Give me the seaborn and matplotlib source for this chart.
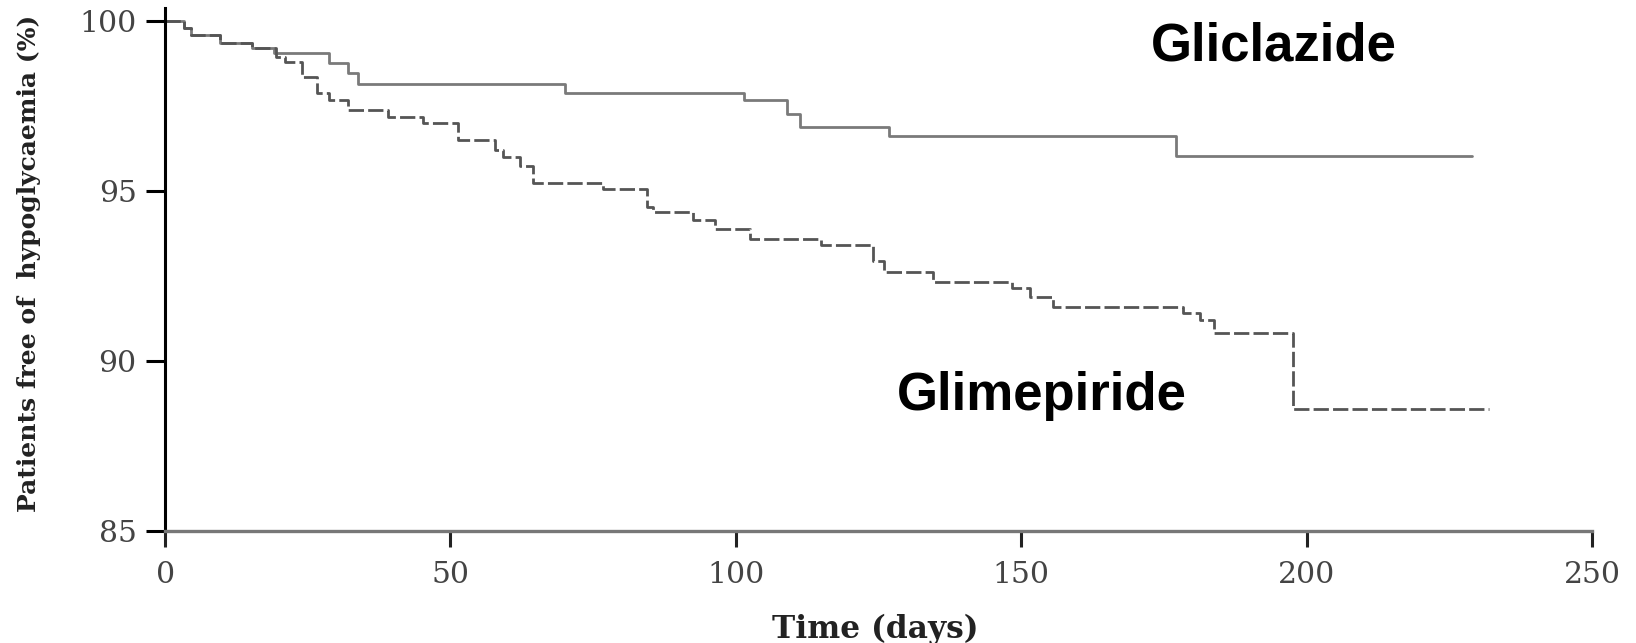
import matplotlib
matplotlib.use("Agg")
import matplotlib.pyplot as plt
import numpy as np
import pandas as pd
import seaborn as sns

# ---- data ----
days_gliclazide = [0, 3.3, 4.6, 9.6, 15.3, 19.0, 28.8, 32.1, 33.8, 70.1,
                   101.5, 109.0, 111.3, 126.8, 177.2, 229.0]
free_gliclazide = [100, 99.8, 99.58, 99.34, 99.21, 99.05, 98.75, 98.46, 98.16, 97.89,
                   97.67, 97.25, 96.89, 96.63, 96.04, 96.04]

days_glimepiride = [0, 3.3, 4.6, 9.6, 15.3, 19.5, 21.0, 24.0, 26.7, 28.7, 32.0,
                    39.1, 45.2, 51.3, 57.8, 59.2, 62.2, 64.5, 76.7, 84.4, 85.5,
                    92.5, 96.4, 102.5, 115.0, 124.0, 125.9, 134.6, 148.3, 151.6,
                    155.6, 178.3, 181.4, 183.7, 197.7, 232.0]
free_glimepiride = [100, 99.8, 99.58, 99.34, 99.21, 98.95, 98.8, 98.36, 97.87, 97.67, 97.38,
                    97.18, 96.99, 96.5, 96.2, 96.0, 95.73, 95.24, 95.05, 94.54, 94.39,
                    94.14, 93.88, 93.6, 93.41, 92.95, 92.62, 92.33, 92.14, 91.89,
                    91.6, 91.4, 91.2, 90.83, 88.6, 88.6]

drug_names = ["Gliclazide", "Glimepiride"]
x_ticks = [0, 50, 100, 150, 200, 250]
y_ticks = [85, 90, 95, 100]
x_label = "Time (days)"
y_label = "Patients free of  hypoglycaemia (%)"

df = pd.concat([
    pd.DataFrame({"day": days_gliclazide, "free": free_gliclazide, "drug": drug_names[0]}),
    pd.DataFrame({"day": days_glimepiride, "free": free_glimepiride, "drug": drug_names[1]}),
], ignore_index=True)

sns.set_style("ticks")
plt.rcParams["font.family"] = ["DejaVu Serif"]

fig = plt.figure(figsize=(16.36, 6.43), dpi=100)
ax = fig.add_axes([0.1009, 0.1742, 0.8722, 0.8128])

sns.lineplot(data=df, x="day", y="free", hue="drug", style="drug",
             palette={drug_names[0]: "#7a7a7a", drug_names[1]: "#555555"},
             dashes={drug_names[0]: "", drug_names[1]: (5.5, 1.5)},
             drawstyle="steps-post", errorbar=None, legend=False,
             linewidth=2.0, ax=ax)

ax.set_xlim(0, 250)
ax.set_ylim(85, 100.37)
ax.set_xticks(x_ticks)
ax.set_yticks(y_ticks)
sns.despine(ax=ax)
ax.spines["left"].set_color("black")
ax.spines["left"].set_linewidth(2.2)
ax.spines["bottom"].set_color("#777777")
ax.spines["bottom"].set_linewidth(2.4)

ax.tick_params(axis="y", length=13.5, width=2.2, color="black", pad=7,
               labelsize=21.5, labelcolor="#444444", direction="out")
ax.tick_params(axis="x", length=11.5, width=2.2, color="#222222", pad=10,
               labelsize=21.5, labelcolor="#444444", direction="out")

ax.set_xlabel(x_label, fontsize=22.5, fontweight="bold", color="#222222",
              verticalalignment="center")
ax.xaxis.set_label_coords(0.498, -0.1875)
ax.set_ylabel(y_label, fontsize=18, fontweight="bold", color="#222222",
              verticalalignment="center")
ax.yaxis.set_label_coords(-0.0953, 0.5127)

ax.text(172.7, 98.84, drug_names[0], fontsize=38, fontweight="bold",
        family=["Liberation Sans"], ha="left", va="baseline", color="black")
ax.text(128.2, 88.56, drug_names[1], fontsize=38, fontweight="bold",
        family=["Liberation Sans"], ha="left", va="baseline", color="black")

fig.savefig("out.png", dpi=100)
